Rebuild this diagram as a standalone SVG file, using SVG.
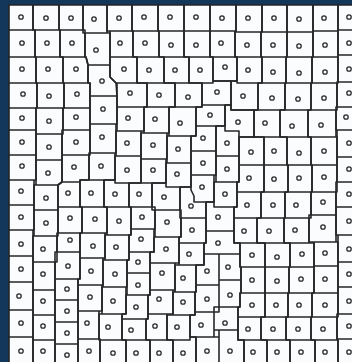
<svg xmlns="http://www.w3.org/2000/svg" width="352" height="362" viewBox="0 0 352 362">
<style>
.c{fill:none;stroke:#262626;stroke-width:1.6;stroke-linejoin:round}
.d circle{fill:none;stroke:#2a2a2a;stroke-width:1.3}
</style>
<rect x="0" y="0" width="352" height="362" fill="#12375a"/>
<rect x="9" y="5" width="350" height="360" fill="#fbfcfd"/>
<g id="cells" class="c">
<path d="M9 5H33V30H9Z M9 30H35V57H9Z M9 57H36V83H9Z M9 83H37V108H9Z M9 108H36V130H9Z M9 130H36V155H9Z M9 155H36V180H9Z M9 180H34V205H9Z M9 205H34V230H9Z M9 230H33V256H9Z M9 256H33V282H9Z M9 282H33V310H9Z M9 310H33V337H9Z M9 337H33V365H9Z"/>
<path d="M33 5H59V30H33Z M35 30H60V57H35Z M36 57H63V83H36Z M37 83H64V108H37Z M36 108H63V134H36Z M36 134H62V160H36Z M36 160H62V182L58 185H36Z M34 185H58V210H34Z M34 210H58V236H34Z M33 236H57V262H33Z M33 262H55V290H33Z M33 290H55V315H33Z M33 315H55V340H33Z M33 340H55V365H33Z"/>
<path d="M59 5H83V30H59Z M60 30H85V57H60Z M63 57H86L88 65V83H63Z M64 83H90V108H64Z M63 108H90V130H63Z M62 130H90V155H62Z M62 155H89V180H80V182H62Z M58 185L62 182H80V207H58Z M58 207H82V233H58Z M57 233H80V252H57Z M55 252H80V279H55Z M55 279H78V300H55Z M55 300H78V322H55Z M55 322H78V344H55Z M55 344H78V365H55Z"/>
<path d="M83 5H107V33H83Z M85 33H110V65H88L86 57H85Z M88 65H110V77L116 83L117 96H90V83H88Z M90 96H117V124H90Z M90 124H116V153H90Z M89 153H115V180H89Z M80 180H104V207H80Z M82 207H107V233H82Z M80 233H105V258H80Z M80 258H103V285H78V279H80Z M78 285H102V311H78Z M78 311H99V339H78Z M78 339H100V365H78Z"/>
<path d="M107 5H132V31H107Z M110 31H133V57H110Z M110 57H137V83H116L110 77Z M117 83H147V107H117Z M117 107H144V131H117Z M116 131H141V156H116Z M115 156H141V183H115Z M104 180H115V183H129V207H104Z M107 207H131V235H107Z M105 235H129V260H105Z M103 260H127V287H103Z M102 287H126V314H102Z M99 314H122V340H99Z M100 340H126V365H100Z"/>
<path d="M132 5H158V31H132Z M133 31H159V57H133Z M137 57H164V83H137Z M147 83H175V107H147Z M144 107H169V133H144Z M141 133H167V159H141Z M141 159H166V183H141Z M129 183H152V207H129Z M131 207H155V229H131Z M131 229H154V252H129V235H131Z M129 252H150V273H127V260H129Z M127 273H150V295H127Z M126 295H148V319H122V314H126Z M122 319H146V340H122Z M126 340H150V365H126Z"/>
<path d="M158 5H184V31H158Z M159 31H184V57H159Z M164 57H189V83H164Z M175 83H202V107H175Z M169 107H196V136H169Z M167 136H191V163H167Z M166 163H191V187H166Z M152 183H166V187H180V210H152Z M155 210H181V237H155Z M154 237H179V263H150V252H154Z M150 263H175V290H150Z M150 290H173V314H148V295H150Z M148 314H167V340H146V319H148Z M150 340H173V365H150Z"/>
<path d="M184 5H210V31H184Z M184 31H210V57H184Z M189 57H213V83H189Z M202 83H213V81H231V105H202Z M196 107H202V105H225V126H196Z M196 126H216V151H191V136H196Z M191 151H216V175H191Z M191 175H214V202H194V196L191 190Z M180 187H191V190L194 196V202H206V218H180Z M181 218H206V243H179V237H181Z M179 243H204V265H179Z M175 265H196V292H175Z M173 292H195V315H173Z M167 315H190V340H167Z M173 340H190V337H196V365H173Z"/>
<path d="M210 5H236V31H210Z M210 31H235V57H210Z M213 57H237V81H213Z M225 105H231V110H254V137H239V131H225Z M216 126H225V131H239V156H216Z M216 156H239V182H216Z M214 182H237V207H214Z M206 202H214V207H234V231H206Z M206 231H234V243H240V254H204V243H206Z M204 254H219V285H196V265H204Z M219 254H240V267H241V280H219Z M219 280H241V293H240V307H219Z M196 285H219V312H195V292H196Z M195 312H214V337H190V315H195Z M214 307H238V330H214Z M196 337H219V365H196Z M219 330H238V340H244V365H219Z"/>
<path d="M236 5H262V32H236Z M235 32H261V57H235Z M237 57H262V83H237Z M231 81H237V83H258V110H231Z M239 137H264V165H239Z M239 165H264V192H237V182H239Z M237 192H261V218H234V207H237Z M234 218H257V243H234Z M240 243H265V267H240Z M241 267H265V293H241Z M240 293H265V317H238V307H240Z M238 317H261V340H238Z M244 340H267V365H244Z"/>
<path d="M262 5H287V32H262Z M261 32H287V57H261Z M262 57H286V83H262Z M258 83H285V110H258Z M254 110H280V137H254Z M264 137H287V165H264Z M264 165H288V192H264Z M261 192H285V218H261Z M257 218H284V243H257Z M265 243H290V267H265Z M265 267H289V293H265Z M265 293H288V317H265Z M261 317H286V340H261Z M267 340H290V365H267Z"/>
<path d="M287 5H313V32H287Z M287 32H313V57H287Z M286 57H312V83H286Z M285 83H311V110H285Z M280 110H308V137H280Z M287 137H311V165H287Z M288 165H312V192H288Z M285 192H311V218H285Z M284 218H309V243H284Z M290 243H314V267H290Z M289 267H314V293H289Z M288 293H312V317H288Z M286 317H311V340H286Z M290 340H315V365H290Z"/>
<path d="M313 5H338V31H313Z M313 31H338V57H313Z M312 57H338V83H312Z M311 83H337V110H311Z M308 110H336V137H308Z M311 137H337V165H311Z M312 165H337V192H312Z M311 192H336V215H311Z M309 215H336V242H309Z M314 242H338V266H314Z M314 266H338V293H314Z M312 293H338V317H312Z M311 317H337V340H311Z M315 340H338V365H315Z"/>
<path d="M338 5H360V30H338Z M338 30H360V55H338Z M338 55H360V82H338Z M337 82H360V107H337Z M336 107H360V130H336Z M337 130H360V157H337Z M337 157H360V182H337Z M336 182H360V207H336Z M336 207H360V235H336Z M338 235H360V262H338Z M338 262H360V287H338Z M338 287H360V314H338Z M337 314H360V339H337Z M338 339H360V365H338Z"/>
</g>
<g id="dots" class="d">
<circle cx="21" cy="17" r="2.2"/><circle cx="22" cy="43" r="2.2"/><circle cx="22" cy="69" r="2.2"/><circle cx="23" cy="94" r="2.2"/><circle cx="22" cy="118" r="2.2"/><circle cx="22" cy="142" r="2.2"/><circle cx="22" cy="166" r="2.2"/><circle cx="21" cy="191" r="2.2"/><circle cx="21" cy="217" r="2.2"/><circle cx="21" cy="244" r="2.2"/><circle cx="21" cy="269" r="2.2"/><circle cx="19" cy="296" r="2.2"/><circle cx="21" cy="323" r="2.2"/><circle cx="21" cy="351" r="2.2"/>
<circle cx="46" cy="18" r="2.2"/><circle cx="47" cy="43" r="2.2"/><circle cx="48" cy="69" r="2.2"/><circle cx="49" cy="96" r="2.2"/><circle cx="49" cy="121" r="2.2"/><circle cx="49" cy="147" r="2.2"/><circle cx="48" cy="173" r="2.2"/><circle cx="46" cy="198" r="2.2"/><circle cx="46" cy="223" r="2.2"/><circle cx="43" cy="249" r="2.2"/><circle cx="43" cy="274" r="2.2"/><circle cx="43" cy="301" r="2.2"/><circle cx="43" cy="326" r="2.2"/><circle cx="43" cy="351" r="2.2"/>
<circle cx="71" cy="18" r="2.2"/><circle cx="72" cy="43" r="2.2"/><circle cx="76" cy="69" r="2.2"/><circle cx="77" cy="94" r="2.2"/><circle cx="76" cy="117" r="2.2"/><circle cx="76" cy="142" r="2.2"/><circle cx="74" cy="167" r="2.2"/><circle cx="68" cy="193" r="2.2"/><circle cx="70" cy="218" r="2.2"/><circle cx="70" cy="240" r="2.2"/><circle cx="68" cy="266" r="2.2"/><circle cx="67" cy="289" r="2.2"/><circle cx="67" cy="311" r="2.2"/><circle cx="67" cy="333" r="2.2"/><circle cx="67" cy="355" r="2.2"/>
<circle cx="94" cy="19" r="2.2"/><circle cx="96" cy="50" r="2.2"/><circle cx="102" cy="81" r="2.2"/><circle cx="103" cy="109" r="2.2"/><circle cx="102" cy="137" r="2.2"/><circle cx="101" cy="166" r="2.2"/><circle cx="91" cy="193" r="2.2"/><circle cx="95" cy="219" r="2.2"/><circle cx="93" cy="246" r="2.2"/><circle cx="91" cy="271" r="2.2"/><circle cx="90" cy="297" r="2.2"/><circle cx="87" cy="323" r="2.2"/><circle cx="89" cy="351" r="2.2"/>
<circle cx="119" cy="18" r="2.2"/><circle cx="120" cy="43" r="2.2"/><circle cx="124" cy="69" r="2.2"/><circle cx="130" cy="93" r="2.2"/><circle cx="128" cy="118" r="2.2"/><circle cx="127" cy="143" r="2.2"/><circle cx="127" cy="170" r="2.2"/><circle cx="115" cy="194" r="2.2"/><circle cx="119" cy="221" r="2.2"/><circle cx="116" cy="247" r="2.2"/><circle cx="115" cy="274" r="2.2"/><circle cx="113" cy="301" r="2.2"/><circle cx="108" cy="327" r="2.2"/><circle cx="113" cy="353" r="2.2"/>
<circle cx="144" cy="17" r="2.2"/><circle cx="145" cy="43" r="2.2"/><circle cx="149" cy="70" r="2.2"/><circle cx="159" cy="95" r="2.2"/><circle cx="155" cy="119" r="2.2"/><circle cx="153" cy="145" r="2.2"/><circle cx="153" cy="170" r="2.2"/><circle cx="139" cy="194" r="2.2"/><circle cx="142" cy="217" r="2.2"/><circle cx="141" cy="239" r="2.2"/><circle cx="138" cy="262" r="2.2"/><circle cx="138" cy="285" r="2.2"/><circle cx="136" cy="307" r="2.2"/><circle cx="131" cy="330" r="2.2"/><circle cx="136" cy="353" r="2.2"/>
<circle cx="170" cy="17" r="2.2"/><circle cx="171" cy="45" r="2.2"/><circle cx="175" cy="70" r="2.2"/><circle cx="188" cy="97" r="2.2"/><circle cx="180" cy="123" r="2.2"/><circle cx="178" cy="149" r="2.2"/><circle cx="177" cy="174" r="2.2"/><circle cx="164" cy="197" r="2.2"/><circle cx="167" cy="222" r="2.2"/><circle cx="166" cy="249" r="2.2"/><circle cx="162" cy="273" r="2.2"/><circle cx="159" cy="299" r="2.2"/><circle cx="155" cy="326" r="2.2"/><circle cx="159" cy="353" r="2.2"/>
<circle cx="196" cy="17" r="2.2"/><circle cx="196" cy="45" r="2.2"/><circle cx="200" cy="70" r="2.2"/><circle cx="217" cy="92" r="2.2"/><circle cx="210" cy="115" r="2.2"/><circle cx="203" cy="138" r="2.2"/><circle cx="203" cy="163" r="2.2"/><circle cx="202" cy="187" r="2.2"/><circle cx="191" cy="206" r="2.2"/><circle cx="192" cy="230" r="2.2"/><circle cx="189" cy="254" r="2.2"/><circle cx="183" cy="278" r="2.2"/><circle cx="183" cy="302" r="2.2"/><circle cx="177" cy="327" r="2.2"/><circle cx="183" cy="353" r="2.2"/>
<circle cx="222" cy="18" r="2.2"/><circle cx="221" cy="43" r="2.2"/><circle cx="225" cy="67" r="2.2"/><circle cx="238" cy="122" r="2.2"/><circle cx="227" cy="143" r="2.2"/><circle cx="227" cy="169" r="2.2"/><circle cx="225" cy="194" r="2.2"/><circle cx="218" cy="217" r="2.2"/><circle cx="218" cy="243" r="2.2"/><circle cx="207" cy="271" r="2.2"/><circle cx="228" cy="267" r="2.2"/><circle cx="230" cy="295" r="2.2"/><circle cx="207" cy="299" r="2.2"/><circle cx="201" cy="325" r="2.2"/><circle cx="225" cy="323" r="2.2"/><circle cx="207" cy="351" r="2.2"/><circle cx="230" cy="351" r="2.2"/>
<circle cx="248" cy="18" r="2.2"/><circle cx="247" cy="45" r="2.2"/><circle cx="248" cy="70" r="2.2"/><circle cx="243" cy="96" r="2.2"/><circle cx="251" cy="152" r="2.2"/><circle cx="249" cy="178" r="2.2"/><circle cx="247" cy="205" r="2.2"/><circle cx="244" cy="231" r="2.2"/><circle cx="252" cy="255" r="2.2"/><circle cx="252" cy="280" r="2.2"/><circle cx="252" cy="305" r="2.2"/><circle cx="248" cy="329" r="2.2"/><circle cx="253" cy="352" r="2.2"/>
<circle cx="274" cy="18" r="2.2"/><circle cx="273" cy="45" r="2.2"/><circle cx="273" cy="72" r="2.2"/><circle cx="272" cy="98" r="2.2"/><circle cx="265" cy="123" r="2.2"/><circle cx="274" cy="151" r="2.2"/><circle cx="274" cy="179" r="2.2"/><circle cx="273" cy="205" r="2.2"/><circle cx="269" cy="231" r="2.2"/><circle cx="277" cy="257" r="2.2"/><circle cx="277" cy="281" r="2.2"/><circle cx="276" cy="305" r="2.2"/><circle cx="273" cy="329" r="2.2"/><circle cx="277" cy="352" r="2.2"/>
<circle cx="299" cy="19" r="2.2"/><circle cx="299" cy="46" r="2.2"/><circle cx="299" cy="73" r="2.2"/><circle cx="298" cy="99" r="2.2"/><circle cx="292" cy="126" r="2.2"/><circle cx="299" cy="153" r="2.2"/><circle cx="299" cy="178" r="2.2"/><circle cx="296" cy="205" r="2.2"/><circle cx="295" cy="230" r="2.2"/><circle cx="302" cy="254" r="2.2"/><circle cx="301" cy="279" r="2.2"/><circle cx="299" cy="305" r="2.2"/><circle cx="298" cy="329" r="2.2"/><circle cx="301" cy="352" r="2.2"/>
<circle cx="324" cy="18" r="2.2"/><circle cx="325" cy="45" r="2.2"/><circle cx="325" cy="72" r="2.2"/><circle cx="324" cy="98" r="2.2"/><circle cx="321" cy="125" r="2.2"/><circle cx="324" cy="151" r="2.2"/><circle cx="324" cy="177" r="2.2"/><circle cx="323" cy="202" r="2.2"/><circle cx="323" cy="227" r="2.2"/><circle cx="325" cy="253" r="2.2"/><circle cx="325" cy="279" r="2.2"/><circle cx="325" cy="305" r="2.2"/><circle cx="323" cy="329" r="2.2"/><circle cx="325" cy="352" r="2.2"/>
<circle cx="349" cy="17" r="2.2"/><circle cx="349" cy="43" r="2.2"/><circle cx="349" cy="69" r="2.2"/><circle cx="349" cy="93" r="2.2"/><circle cx="346" cy="117" r="2.2"/><circle cx="349" cy="143" r="2.2"/><circle cx="349" cy="169" r="2.2"/><circle cx="349" cy="194" r="2.2"/><circle cx="349" cy="221" r="2.2"/><circle cx="349" cy="249" r="2.2"/><circle cx="349" cy="274" r="2.2"/><circle cx="349" cy="301" r="2.2"/><circle cx="349" cy="326" r="2.2"/><circle cx="349" cy="352" r="2.2"/>
</g>
</svg>
